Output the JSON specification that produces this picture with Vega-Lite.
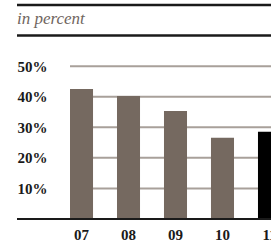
{
  "$schema": "https://vega.github.io/schema/vega-lite/v6.json",
  "width": 254,
  "height": 214,
  "autosize": "none",
  "padding": {"left": 17, "top": 5, "right": 0, "bottom": 22},
  "config": {"view": {"stroke": null}},
  "title": {
    "text": "in percent",
    "anchor": "start",
    "frame": "group",
    "orient": "top",
    "offset": -24,
    "font": "Liberation Serif",
    "fontStyle": "italic",
    "fontWeight": "normal",
    "fontSize": 17,
    "color": "#6f655e"
  },
  "datasets": {
    "bars": [
      {"year": "07", "value": 42.5, "current": "no"},
      {"year": "08", "value": 40.2, "current": "no"},
      {"year": "09", "value": 35.3, "current": "no"},
      {"year": "10", "value": 26.6, "current": "no"},
      {"year": "11", "value": 28.5, "current": "yes"}
    ],
    "grid": [{"value": 10}, {"value": 20}, {"value": 30}, {"value": 40}, {"value": 50}],
    "frame": [{"value": 0, "w": 2}, {"value": 60, "w": 2.5}, {"value": 70, "w": 2.5}]
  },
  "encoding": {
    "y": {
      "field": "value",
      "type": "quantitative",
      "scale": {"domain": [0, 70]},
      "axis": {
        "title": null,
        "orient": "left",
        "offset": -30,
        "values": [10, 20, 30, 40, 50],
        "labelExpr": "datum.value + '%'",
        "domain": false,
        "ticks": false,
        "grid": false,
        "labelPadding": 0,
        "labelAlign": "right",
        "labelBaseline": "middle",
        "labelFont": "Liberation Serif",
        "labelFontWeight": "bold",
        "labelFontSize": 15,
        "labelColor": "#1a1a1a"
      }
    }
  },
  "layer": [
    {
      "data": {"name": "grid"},
      "mark": {"type": "rule", "color": "#a8a09a", "strokeWidth": 2},
      "encoding": {
        "x": {
          "datum": "07",
          "bandPosition": 0,
          "type": "nominal",
          "scale": {"domain": ["07", "08", "09", "10", "11"], "range": [53, 264], "paddingInner": 0.51, "paddingOuter": 0},
          "axis": {
            "title": null,
            "domain": false,
            "ticks": false,
            "labelAngle": 0,
            "labelPadding": 8,
            "labelFont": "Liberation Serif",
            "labelFontWeight": "bold",
            "labelFontSize": 15,
            "labelColor": "#1a1a1a"
          }
        },
        "x2": {"datum": "11", "bandPosition": 1}
      }
    },
    {
      "data": {"name": "bars"},
      "mark": {"type": "bar"},
      "encoding": {
        "x": {"field": "year", "type": "nominal", "sort": null},
        "color": {
          "field": "current",
          "type": "nominal",
          "scale": {"domain": ["no", "yes"], "range": ["#756960", "#000000"]},
          "legend": null
        }
      }
    },
    {
      "data": {"name": "frame"},
      "mark": {"type": "rule", "color": "#1a1a1a"},
      "encoding": {
        "strokeWidth": {"field": "w", "type": "quantitative", "scale": null}
      }
    }
  ]
}
